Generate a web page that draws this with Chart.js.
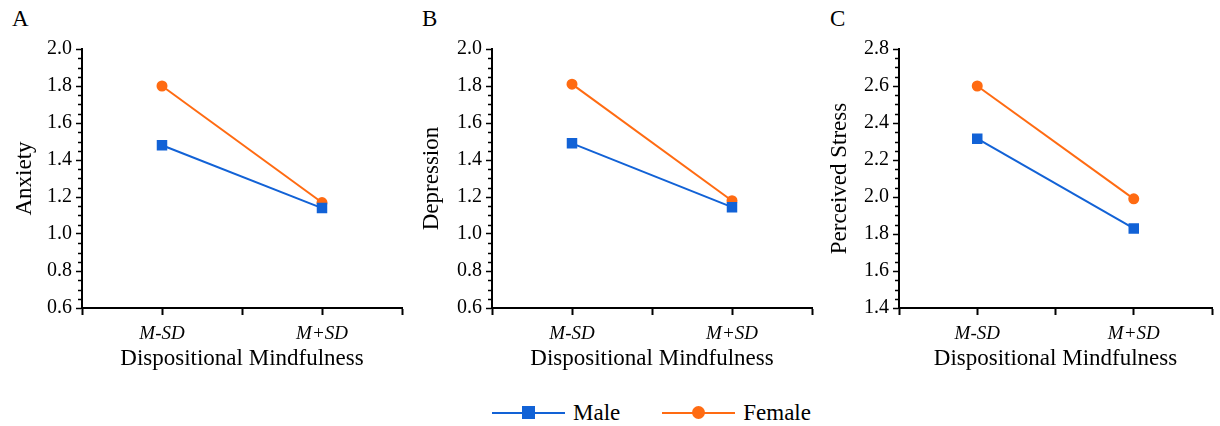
<!DOCTYPE html>
<html>
<head>
<meta charset="utf-8">
<script src="https://cdn.jsdelivr.net/npm/chart.js@4"></script>
<style>
  body { margin: 0; background: #fff; font-family: "Liberation Serif", "Times New Roman", "DejaVu Serif", serif; }
  #wrap { position: relative; width: 1220px; height: 426px; }
  .panel { position: absolute; top: 0; height: 380px; }
  .letter { position: absolute; top: 6px; font-size: 23px; color: #000; }
  #legend { position: absolute; top: 400px; left: 492px; display: flex; font-size: 23px; color: #000; }
  .item { display: flex; align-items: center; margin-right: 42px; }
  .sym { position: relative; width: 73px; height: 26px; margin-right: 8px; }
  .sym .ln { position: absolute; left: 0; right: 0; top: 12px; height: 2px; }
  .sym .mk { position: absolute; left: 30px; top: 6px; width: 13px; height: 13px; }
</style>
</head>
<body>
<div id="wrap">
  <div class="letter" style="left:12px">A</div>
  <div class="letter" style="left:422px">B</div>
  <div class="letter" style="left:830px">C</div>
  <div class="panel" style="left:0;width:410px"><canvas id="chartA"></canvas></div>
  <div class="panel" style="left:410px;width:410px"><canvas id="chartB"></canvas></div>
  <div class="panel" style="left:820px;width:400px"><canvas id="chartC"></canvas></div>
  <div id="legend"></div>
</div>
<script>
// Данные
const levels = ["M-SD", "M+SD"];
const seriesNames = ["Male", "Female"];
const seriesColors = ["#1262d6", "#ff6b12"];

const anxietyMale = [1.48, 1.14];
const anxietyFemale = [1.80, 1.17];
const depressionMale = [1.49, 1.145];
const depressionFemale = [1.81, 1.18];
const stressMale = [2.315, 1.83];
const stressFemale = [2.60, 1.99];

const anxietyTicks = [0.6, 2.0];
const depressionTicks = [0.6, 2.0];
const stressTicks = [1.4, 2.8];

const FONT = "'Liberation Serif', 'Times New Roman', 'DejaVu Serif', serif";

// мелкие засечки на оси y
const minorTicks = {
    id: "minorTicks",
    afterDraw(chart) {
        const y = chart.scales.y;
        const ctx = chart.ctx;
        const x0 = chart.chartArea.left;
        ctx.save();
        ctx.strokeStyle = "#000";
        ctx.lineWidth = 1.5;
        for (let i = 0; i <= 28; i++) {
            if (i % 4 === 0) continue;
            const v = y.min + i * 0.05;
            const py = Math.round(y.getPixelForValue(v)) + 0.5;
            ctx.beginPath();
            ctx.moveTo(x0 - 4, py);
            ctx.lineTo(x0, py);
            ctx.stroke();
        }
        ctx.restore();
    },
};

function makeChart(id, male, female, range, yTitle, padRight, titlePad) {
    const ctx = document.getElementById(id).getContext("2d");
    const toPts = (arr) => arr.map((v, i) => ({ x: i, y: v }));
    return new Chart(ctx, {
        type: "line",
        data: {
            datasets: [
                {
                    label: seriesNames[0],
                    data: toPts(male),
                    borderColor: seriesColors[0],
                    backgroundColor: seriesColors[0],
                    borderWidth: 2,
                    pointStyle: "rect",
                    pointRadius: 6,
                    fill: false,
                },
                {
                    label: seriesNames[1],
                    data: toPts(female),
                    borderColor: seriesColors[1],
                    backgroundColor: seriesColors[1],
                    borderWidth: 2,
                    pointStyle: "circle",
                    pointRadius: 4.5,
                    fill: false,
                },
            ],
        },
        options: {
            responsive: true,
            maintainAspectRatio: false,
            animation: false,
            layout: { padding: { top: 49, right: padRight, left: 0, bottom: 0 } },
            plugins: {
                legend: { display: false },
                tooltip: { enabled: false },
            },
            scales: {
                x: {
                    type: "linear",
                    min: -0.5,
                    max: 1.5,
                    afterFit: (s) => { s.height = 72; },
                    afterBuildTicks: (s) => {
                        s.ticks = [-0.5, 0, 0.5, 1, 1.5].map((v) => ({ value: v }));
                    },
                    border: { display: true, color: "#000", width: 2 },
                    grid: { drawOnChartArea: false, tickLength: 7, tickColor: "#000", tickWidth: 2 },
                    ticks: {
                        padding: 8,
                        color: "#000",
                        font: { family: FONT, size: 19, style: "italic" },
                        callback: (v) => (Number.isInteger(v) ? levels[v] : ""),
                    },
                    title: {
                        display: true,
                        text: "Dispositional Mindfulness",
                        color: "#000",
                        font: { family: FONT, size: 23 },
                        padding: { top: 0, bottom: 7 },
                    },
                },
                y: {
                    min: range[0],
                    max: range[1],
                    afterFit: (s) => { s.width = id === "chartC" ? 79 : 82; },
                    border: { display: true, color: "#000", width: 2 },
                    grid: { drawOnChartArea: false, tickLength: 6, tickColor: "#000", tickWidth: 1.5 },
                    ticks: {
                        stepSize: 0.2,
                        padding: 4,
                        color: "#000",
                        font: { family: FONT, size: 20 },
                        callback: (v) => v.toFixed(1),
                    },
                    title: {
                        display: true,
                        text: yTitle,
                        color: "#000",
                        font: { family: FONT, size: 23 },
                        padding: { top: titlePad, bottom: 0 },
                    },
                },
            },
        },
        plugins: [minorTicks],
    });
}

makeChart("chartA", anxietyMale, anxietyFemale, anxietyTicks, "Anxiety", 6, 11);
makeChart("chartB", depressionMale, depressionFemale, depressionTicks, "Depression", 6, 8);
makeChart("chartC", stressMale, stressFemale, stressTicks, "Perceived Stress", 1, 6);

// легенда
const legend = document.getElementById("legend");
seriesNames.forEach((name, i) => {
    const item = document.createElement("div");
    item.className = "item";
    const round = i === 1 ? "border-radius:50%;" : "";
    item.innerHTML =
        '<div class="sym"><div class="ln" style="background:' + seriesColors[i] + '"></div>' +
        '<div class="mk" style="background:' + seriesColors[i] + ";" + round + '"></div></div>' +
        "<span>" + name + "</span>";
    legend.appendChild(item);
});
</script>
</body>
</html>
